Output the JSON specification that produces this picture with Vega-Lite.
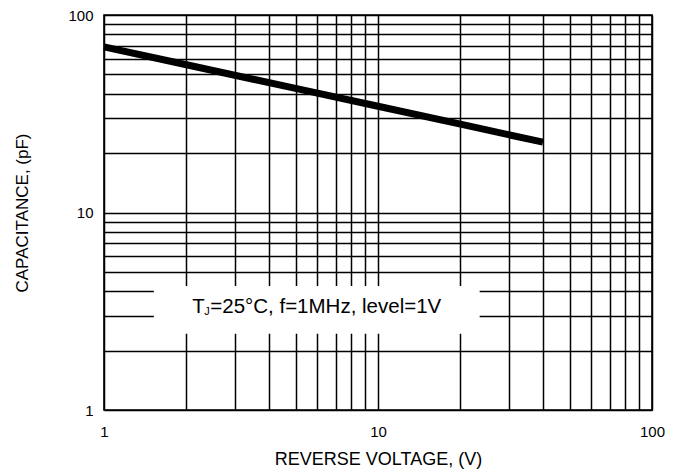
{
  "$schema": "https://vega.github.io/schema/vega-lite/v6.json",
  "width": 548,
  "height": 395,
  "autosize": {"type": "none"},
  "padding": {"left": 104, "top": 15, "right": 30, "bottom": 66},
  "background": "white",
  "config": {
    "view": {"stroke": "black", "strokeWidth": 1.6},
    "font": "Liberation Sans",
    "axis": {
      "grid": true,
      "gridColor": "black",
      "gridOpacity": 1,
      "gridWidth": 1.5,
      "domain": false,
      "ticks": false,
      "labelFont": "Liberation Sans",
      "labelFontSize": 15,
      "labelColor": "black",
      "titleFont": "Liberation Sans",
      "titleFontWeight": "normal",
      "titleColor": "black",
      "titleFontSize": 17
    }
  },
  "datasets": {
    "curve": [
      {"voltage": 1, "capacitance": 69},
      {"voltage": 2, "capacitance": 56},
      {"voltage": 5, "capacitance": 42.5},
      {"voltage": 10, "capacitance": 34.5},
      {"voltage": 20, "capacitance": 28},
      {"voltage": 40, "capacitance": 22.7}
    ],
    "note": [
      {"x1": 1.52, "x2": 23.5, "y1": 2.43, "y2": 4.25, "tx": 2.1, "ty": 3.33, "t": "T", "sub": "J", "rest": "=25°C, f=1MHz, level=1V"}
    ]
  },
  "layer": [
    {
      "data": {"name": "curve"},
      "mark": {"type": "line", "color": "black", "strokeWidth": 7, "strokeCap": "butt"},
      "encoding": {
        "x": {
          "field": "voltage", "type": "quantitative",
          "scale": {"type": "log", "domain": [1, 100], "nice": false},
          "axis": {
            "title": "REVERSE VOLTAGE, (V)",
            "values": [1,2,3,4,5,6,7,8,9,10,20,30,40,50,60,70,80,90,100],
            "labelExpr": "(datum.value==1||datum.value==10||datum.value==100) ? datum.label : ''",
            "labelPadding": 14,
            "titlePadding": 11,
            "titleFontSize": 18,
            "labelFlush": false,
            "labelOverlap": false
          }
        },
        "y": {
          "field": "capacitance", "type": "quantitative",
          "scale": {"type": "log", "domain": [1, 100], "nice": false},
          "axis": {
            "title": "CAPACITANCE, (pF)",
            "values": [1,2,3,4,5,6,7,8,9,10,20,30,40,50,60,70,80,90,100],
            "labelExpr": "(datum.value==1||datum.value==10||datum.value==100) ? datum.label : ''",
            "labelPadding": 11,
            "titlePadding": 36,
            "labelFlush": false,
            "labelOverlap": false
          }
        }
      }
    },
    {
      "data": {"name": "note"},
      "mark": {"type": "rect", "fill": "white", "stroke": null},
      "encoding": {
        "x": {"field": "x1", "type": "quantitative", "scale": {"type": "log", "domain": [1, 100], "nice": false}},
        "x2": {"field": "x2"},
        "y": {"field": "y1", "type": "quantitative", "scale": {"type": "log", "domain": [1, 100], "nice": false}},
        "y2": {"field": "y2"}
      }
    },
    {
      "data": {"name": "note"},
      "mark": {"type": "text", "align": "left", "baseline": "middle", "fontSize": 20.5, "color": "black"},
      "encoding": {
        "x": {"field": "tx", "type": "quantitative"},
        "y": {"field": "ty", "type": "quantitative"},
        "text": {"field": "t"}
      }
    },
    {
      "data": {"name": "note"},
      "mark": {"type": "text", "align": "left", "baseline": "middle", "fontSize": 11, "dx": 12, "dy": 5, "color": "black"},
      "encoding": {
        "x": {"field": "tx", "type": "quantitative"},
        "y": {"field": "ty", "type": "quantitative"},
        "text": {"field": "sub"}
      }
    },
    {
      "data": {"name": "note"},
      "mark": {"type": "text", "align": "left", "baseline": "middle", "fontSize": 20.5, "dx": 18, "color": "black"},
      "encoding": {
        "x": {"field": "tx", "type": "quantitative"},
        "y": {"field": "ty", "type": "quantitative"},
        "text": {"field": "rest"}
      }
    }
  ]
}
